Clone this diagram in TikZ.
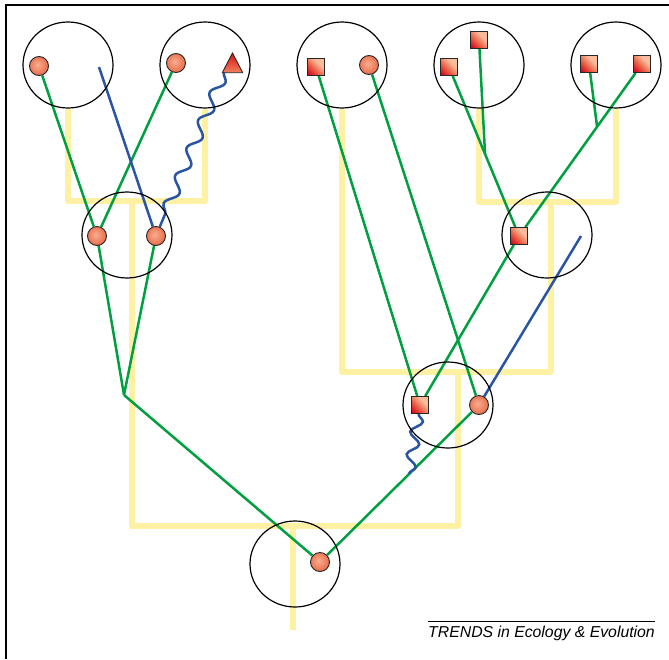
\documentclass[tikz,border=0pt]{standalone}
\usepackage{fontspec}
\setmainfont{Liberation Sans}
\usetikzlibrary{shapes.geometric, decorations.pathmorphing, calc}

\definecolor{treeYellow}{HTML}{FFF1A4}
\definecolor{linkGreen}{HTML}{00A040}
\definecolor{hostBlue}{HTML}{2A55A2}
\definecolor{ballLight}{HTML}{F8AE90}
\definecolor{ballDark}{HTML}{E24C28}
\definecolor{boxRed}{HTML}{D6001C}
\definecolor{boxMid}{HTML}{EA6448}
\definecolor{boxLight}{HTML}{F8BC9C}
\definecolor{triRed}{HTML}{DD1010}
\definecolor{triLight}{HTML}{F08060}

\pgfdeclareradialshading{ballshade}{\pgfpoint{-4bp}{4bp}}{%
  color(0bp)=(ballLight); color(12bp)=(ballLight!70!ballDark);
  color(40bp)=(ballDark); color(60bp)=(ballDark)}
\pgfdeclareverticalshading{boxshade}{100bp}{%
  color(0bp)=(boxRed); color(18bp)=(boxRed); color(42bp)=(boxMid);
  color(64bp)=(boxLight); color(100bp)=(boxLight)}

\pgfdeclarelayer{tree}
\pgfdeclarelayer{links}
\pgfsetlayers{tree,links,main}

\tikzset{
  area/.style={draw=black, line width=1.2pt, ellipse, minimum width=90pt,
    minimum height=86pt, inner sep=0pt},
  ballnode/.style={circle, draw=black!85, line width=0.9pt, minimum size=19pt,
    inner sep=0pt, shading=ballshade},
  boxnode/.style={rectangle, draw=black!85, line width=0.9pt, minimum size=17pt,
    inner sep=0pt, shading=boxshade, shading angle=-45},
  yel/.style={draw=treeYellow, line width=5.5pt, line join=round},
  gl/.style={draw=linkGreen, line width=2.5pt},
  bl/.style={draw=hostBlue, line width=2.5pt},
  wavy/.style={draw=hostBlue, line width=2.5pt, decorate,
    decoration={snake, segment length=#1, amplitude=5.5pt}},
}

\begin{document}
\begin{tikzpicture}[x=1pt, y=-1pt]
\useasboundingbox (0,0) rectangle (669,659);

% frame
\draw[line width=1.5pt] (669,5) -- (6,5) -- (6,659);

% outline areas
\node[area] (c1) at (68,65) {};
\node[area] (c2) at (205,65) {};
\node[area] (c3) at (127,235) {};
\node[area] (c4) at (342,65) {};
\node[area] (c5) at (479,65) {};
\node[area] (c6) at (616,65) {};
\node[area] (c7) at (547,235) {};
\node[area] (c8) at (448,405) {};
\node[area] (c9) at (295,564) {};

% taxa
\node[ballnode] (n1) at (39,66) {};
\node[ballnode] (n2) at (176,63) {};
\node[ballnode] (n3a) at (97,236) {};
\node[ballnode] (n3b) at (156,236) {};
\node[boxnode] (s4) at (316,67) {};
\node[ballnode] (n4) at (369,65) {};
\node[boxnode] (s5a) at (449,67) {};
\node[boxnode] (s5b) at (479,40) {};
\node[boxnode] (s6a) at (589,64) {};
\node[boxnode] (s6b) at (642,64) {};
\node[boxnode] (s7) at (519,236) {};
\node[boxnode] (s8) at (420,405) {};
\node[ballnode] (n8) at (479,405) {};
\node[ballnode] (n9) at (320,562) {};
\draw[top color=triRed, bottom color=triLight, line width=0.9pt, draw=black!85]
  (232.5,53) -- (242.7,72.7) -- (222.3,72.7) -- cycle;

% yellow tree
\coordinate (jL) at (132,201);
\coordinate (jR) at (551,202);
\coordinate (jM) at (458,372);
\coordinate (jB) at (293,526);
\coordinate (root) at (293,630);
\begin{pgfonlayer}{tree}
\draw[yel] (c1.south) |- (jL) -| (c2.south);
\draw[yel] (c5.south) |- (jR) -| (c6.south);
\draw[yel] (c4.south) |- (jM) -| (jR);
\draw[yel] (jL) |- (jB) -| (jM);
\draw[yel] (jB) -- (root);
\end{pgfonlayer}

% free ends and junctions
\coordinate (gL) at (124,395);
\coordinate (g5) at ($(s5a)!0.515!(s7)$);
\coordinate (g6) at ($(s6b)!0.365!(s7)$);
\coordinate (b1) at (99,67);
\coordinate (b7) at (581,236);
\coordinate (w1) at (224,72);
\coordinate (w8) at ($(n9)!0.56!(n8)$);

\begin{pgfonlayer}{links}
% green links
\draw[gl] (n1) -- (n3a);
\draw[gl] (n2) -- (n3a);
\draw[gl] (n3a.center) -- (gL);
\draw[gl] (n3b.center) -- (gL);
\draw[gl] (gL) -- (n9);
\draw[gl] (n9) -- (n8);
\draw[gl] (s8) -- (s4);
\draw[gl] (n8) -- (n4);
\draw[gl] (s8) -- (s7);
\draw[gl] (s7) -- (s5a);
\draw[gl] (s5b) -- (g5);
\draw[gl] (s7) -- (s6b);
\draw[gl] (s6a) -- (g6);
% blue links
\draw[bl] (b1) -- (n3b);
\draw[bl] (b7) -- (n8);
\draw[wavy=30pt] (w1) -- (n3b);
\draw[wavy=23pt] (s8) -- (w8);
\end{pgfonlayer}

% credit line
\node[anchor=base east, inner sep=0pt, font=\fontsize{15.8}{18}\selectfont\itshape]
  (credit) at (655,637) {TRENDS in Ecology \& Evolution};
\draw[line width=0.8pt] (credit.west |- 0,621) -- (credit.east |- 0,621);
\end{tikzpicture}
\end{document}
